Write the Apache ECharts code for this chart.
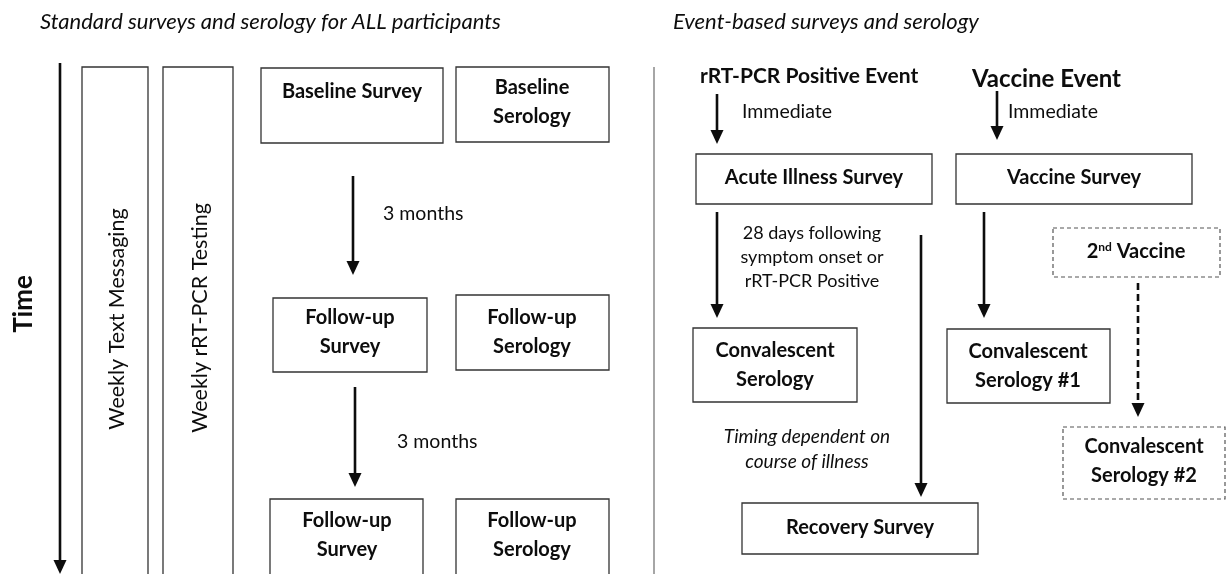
<!DOCTYPE html>
<html>
<head>
<meta charset="utf-8">
<script src="https://cdn.jsdelivr.net/npm/echarts@6/dist/echarts.min.js"></script>
<style>
  html, body { margin: 0; padding: 0; background: #fff; }
  #main { width: 1226px; height: 574px; }
</style>
</head>
<body>
<div id="main"></div>
<script>
// diagram data, in page units (x 0..1226, y 0..574, y grows downwards)

// solid boxes: [x0, y0, x1, y1]
const solidBoxes = [
  [82, 67, 148, 600],    // weekly text messaging band
  [163, 67, 233, 600],   // weekly rRT-PCR band
  [261, 68, 443, 143],   // baseline survey
  [456, 67, 609, 142],   // baseline serology
  [273, 298, 427, 372],  // follow-up survey 1
  [456, 295, 609, 370],  // follow-up serology 1
  [270, 499, 423, 600],  // follow-up survey 2
  [456, 499, 609, 600],  // follow-up serology 2
  [696, 154, 932, 204],  // acute illness survey
  [956, 154, 1192, 204], // vaccine survey
  [693, 328, 857, 402],  // convalescent serology
  [947, 329, 1110, 403], // convalescent serology #1
  [742, 503, 978, 554]   // recovery survey
];
const dashedBoxes = [
  [1053, 228, 1220, 277], // 2nd vaccine
  [1063, 427, 1225, 499]  // convalescent serology #2
];

// arrows pointing down: [x, yStart, yEnd]
const solidArrows = [
  [60, 63, 574],
  [353, 176, 275],
  [355, 387, 487],
  [717, 94, 144],
  [717, 212, 318],
  [921, 235, 497],
  [997, 91, 140],
  [984, 212, 318]
];
const dashedArrows = [
  [1138, 283, 417]
];
const dividers = [
  [654, 67, 574]
];

// texts: [x, y, text]
const titleTexts = [
  [40, 22, 'Standard surveys and serology for ALL participants'],
  [673, 22, 'Event-based surveys and serology']
];
const boxTexts = [
  [352, 92, 'Baseline Survey'],
  [532, 102, 'Baseline\nSerology'],
  [350, 332, 'Follow-up\nSurvey'],
  [532, 332, 'Follow-up\nSerology'],
  [347, 535, 'Follow-up\nSurvey'],
  [532, 535, 'Follow-up\nSerology'],
  [814, 178, 'Acute Illness Survey'],
  [1074, 178, 'Vaccine Survey'],
  [775, 365, 'Convalescent\nSerology'],
  [1028, 366, 'Convalescent\nSerology #1'],
  [1144, 461, 'Convalescent\nSerology #2'],
  [860, 528, 'Recovery Survey']
];
const eventTexts = [
  [700, 76, 'rRT-PCR Positive Event', 21],
  [972, 79, 'Vaccine Event', 24]
];
const bandTexts = [
  [117, 319, 'Weekly Text Messaging'],
  [200, 318, 'Weekly rRT-PCR Testing']
];
const timeText = [[24, 304, 'Time']];
const noteTexts = [
  [383, 214, '3 months'],
  [397, 442, '3 months'],
  [742, 112, 'Immediate'],
  [1008, 112, 'Immediate']
];
const centerNotes = [
  [812, 257, '28 days following\nsymptom onset or\nrRT-PCR Positive']
];
const italicNotes = [
  [807, 449, 'Timing dependent on\ncourse of illness']
];
const secondVaccine = [[1136, 252, '2nd Vaccine']];

const FONT = 'Lato, "Open Sans", sans-serif';
const INK = '#0d0d0d';

function boxSeries(data, dashed) {
  return {
    type: 'custom',
    clip: false,
    silent: true,
    data: data,
    renderItem: function (params, api) {
      const p0 = api.coord([api.value(0), api.value(1)]);
      const p1 = api.coord([api.value(2), api.value(3)]);
      return {
        type: 'rect',
        shape: { x: p0[0], y: p0[1], width: p1[0] - p0[0], height: p1[1] - p0[1] },
        style: {
          fill: '#fff',
          stroke: dashed ? '#555' : '#333',
          lineWidth: dashed ? 1.2 : 1.3,
          lineDash: dashed ? [4, 3] : null
        }
      };
    }
  };
}

function arrowSeries(data, dashed) {
  return {
    type: 'custom',
    clip: false,
    silent: true,
    data: data,
    renderItem: function (params, api) {
      const top = api.coord([api.value(0), api.value(1)]);
      const tip = api.coord([api.value(0), api.value(2)]);
      const headH = 14, headW = 6.5;
      return {
        type: 'group',
        children: [
          {
            type: 'line',
            shape: { x1: top[0], y1: top[1], x2: tip[0], y2: tip[1] - headH + 2 },
            style: { stroke: INK, lineWidth: 2.6, lineDash: dashed ? [7, 4] : null }
          },
          {
            type: 'polygon',
            shape: { points: [[tip[0] - headW, tip[1] - headH], [tip[0] + headW, tip[1] - headH], [tip[0], tip[1]]] },
            style: { fill: INK }
          }
        ]
      };
    }
  };
}

function lineSeries(data) {
  return {
    type: 'custom',
    clip: false,
    silent: true,
    data: data,
    renderItem: function (params, api) {
      const a = api.coord([api.value(0), api.value(1)]);
      const b = api.coord([api.value(0), api.value(2)]);
      return {
        type: 'line',
        shape: { x1: a[0], y1: a[1], x2: b[0], y2: b[1] },
        style: { stroke: '#888', lineWidth: 1.5 }
      };
    }
  };
}

function textSeries(data, style, rotation) {
  return {
    type: 'custom',
    clip: false,
    silent: true,
    data: data.map(function (d) { return [d[0], d[1]]; }),
    renderItem: function (params, api) {
      const p = api.coord([api.value(0), api.value(1)]);
      const d = data[params.dataIndex];
      const s = Object.assign({
        text: d[2],
        fontFamily: FONT,
        fill: INK,
        align: 'center',
        verticalAlign: 'middle'
      }, style);
      if (d[3]) s.fontSize = d[3];
      return { type: 'text', x: p[0], y: p[1], rotation: rotation || 0, style: s };
    }
  };
}

const chart = echarts.init(document.getElementById('main'));

const option = {
  animation: false,
  backgroundColor: '#fff',
  grid: { left: 0, right: 0, top: 0, bottom: 0 },
  xAxis: { type: 'value', min: 0, max: 1226, show: false },
  yAxis: { type: 'value', min: 0, max: 574, inverse: true, show: false },
  series: [
    lineSeries(dividers),
    boxSeries(solidBoxes, false),
    boxSeries(dashedBoxes, true),
    arrowSeries(solidArrows, false),
    arrowSeries(dashedArrows, true),
    textSeries(titleTexts, { fontSize: 22, fontStyle: 'italic', align: 'left' }),
    textSeries(boxTexts, { fontSize: 20, fontWeight: 'bold', lineHeight: 29 }),
    textSeries(eventTexts, { fontWeight: 'bold', align: 'left' }),
    textSeries(bandTexts, { fontSize: 21.5 }, Math.PI / 2),
    textSeries(timeText, { fontSize: 26, fontWeight: 'bold' }, Math.PI / 2),
    textSeries(noteTexts, { fontSize: 19.5, align: 'left' }),
    textSeries(centerNotes, { fontSize: 18, lineHeight: 24 }),
    textSeries(italicNotes, { fontSize: 19, fontStyle: 'italic', lineHeight: 25 }),
    {
      type: 'custom',
      clip: false,
      silent: true,
      data: secondVaccine.map(function (d) { return [d[0], d[1]]; }),
      renderItem: function (params, api) {
        const p = api.coord([api.value(0), api.value(1)]);
        return {
          type: 'text',
          x: p[0],
          y: p[1],
          style: {
            text: '{b|2}{s|nd}{b| Vaccine}',
            align: 'center',
            verticalAlign: 'middle',
            rich: {
              b: { fontFamily: FONT, fontSize: 20, fontWeight: 'bold', fill: INK, color: INK },
              s: { fontFamily: FONT, fontSize: 12, fontWeight: 'bold', fill: INK, color: INK, verticalAlign: 'top', padding: [0, 0, 9, 0] }
            }
          }
        };
      }
    }
  ]
};

chart.setOption(option);
</script>
</body>
</html>
